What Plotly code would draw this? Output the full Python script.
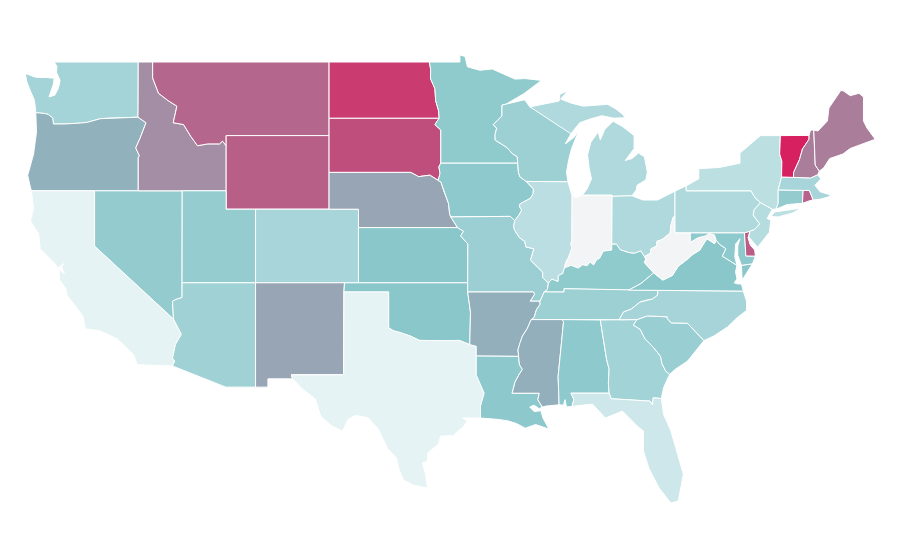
import plotly.graph_objects as go
from plotly.colors import sample_colorscale

# Shared borders as (lon, lat), each written once so neighbours line up
or_wa = [(-124.0, 46.25), (-123.4, 46.2), (-123.15, 46.15), (-122.85, 45.95), (-122.8, 45.63), (-122.1, 45.63), (-120.95, 45.68), (-120.5, 45.72), (-119.6, 45.92), (-119.05, 45.95), (-117.05, 46.0)]
id_wa = [(-117.03, 49.0), (-117.04, 46.35), (-117.05, 46.0)]
id_or = [(-117.05, 46.0), (-116.5, 45.7), (-116.9, 44.87), (-117.2, 44.33), (-116.95, 43.9), (-117.03, 43.8), (-117.03, 42.0)]
mt_id = [(-116.05, 49.0), (-116.05, 48.13), (-115.65, 47.3), (-115.0, 46.9), (-114.4, 46.6), (-114.65, 45.7), (-113.95, 45.6), (-113.45, 44.95), (-113.0, 44.45), (-112.3, 44.55), (-111.5, 44.55), (-111.3, 44.7), (-111.05, 44.45)]
ca_nv = [(-120.0, 42.0), (-120.0, 39.0), (-114.63, 35.03)]
nv_az = [(-114.63, 35.03), (-114.7, 36.0), (-114.45, 36.1), (-114.05, 36.2), (-114.05, 37.0)]
ca_az = [(-114.63, 35.03), (-114.1, 34.2), (-114.5, 33.65), (-114.7, 32.9), (-114.55, 32.75), (-114.7, 32.48)]
nd_mn = [(-96.56, 45.94), (-96.6, 46.35), (-96.8, 46.9), (-96.85, 47.55), (-97.15, 48.1), (-97.14, 48.6), (-97.23, 49.0)]
mn_sd = [(-96.45, 43.5), (-96.45, 45.3), (-96.85, 45.6), (-96.56, 45.94)]
ia_sd = [(-96.45, 42.49), (-96.63, 42.55), (-96.5, 42.95), (-96.58, 43.3), (-96.45, 43.5)]
ne_sd = [(-104.05, 43.0), (-98.5, 43.0), (-97.95, 42.77), (-97.2, 42.85), (-96.7, 42.6), (-96.45, 42.49)]
ne_ia = [(-96.45, 42.49), (-96.25, 42.0), (-96.1, 41.7), (-95.92, 41.3), (-95.85, 40.75), (-95.77, 40.58)]
ne_mo = [(-95.77, 40.58), (-95.31, 40.0)]
ks_mo = [(-95.31, 40.0), (-94.9, 39.8), (-95.1, 39.55), (-94.61, 39.11), (-94.62, 37.0)]
ia_mo = [(-95.77, 40.58), (-91.73, 40.61), (-91.42, 40.38)]
mn_wi = [(-92.01, 46.71), (-92.29, 46.66), (-92.29, 46.07), (-92.88, 45.6), (-92.65, 45.4), (-92.76, 45.06), (-92.75, 44.75), (-92.32, 44.54), (-91.92, 44.33), (-91.6, 44.03), (-91.25, 43.85), (-91.22, 43.5)]
ia_wi = [(-91.22, 43.5), (-91.17, 43.0), (-91.06, 42.75), (-90.64, 42.51)]
ia_il = [(-90.64, 42.51), (-90.42, 42.33), (-90.15, 42.1), (-90.17, 41.85), (-90.34, 41.6), (-90.66, 41.46), (-91.05, 41.3), (-91.1, 41.15), (-90.95, 40.95), (-91.12, 40.7), (-91.42, 40.38)]
mo_il = [(-91.42, 40.38), (-91.5, 40.05), (-91.42, 39.85), (-91.1, 39.45), (-90.73, 39.25), (-90.67, 38.95), (-90.12, 38.85), (-90.2, 38.62), (-90.35, 38.23), (-89.9, 37.88), (-89.52, 37.58), (-89.52, 37.28), (-89.13, 36.98)]
ky_mo = [(-89.13, 36.98), (-89.2, 36.63), (-89.42, 36.5)]
mo_tn = [(-89.42, 36.5), (-89.55, 36.25), (-89.7, 36.0)]
ar_tn = [(-89.7, 36.0), (-89.7, 35.82), (-89.95, 35.53), (-90.1, 35.12), (-90.3, 35.0)]
ms_ar = [(-90.3, 35.0), (-90.58, 34.5), (-90.9, 34.1), (-91.08, 33.7), (-91.2, 33.35), (-91.15, 33.0)]
ms_la = [(-91.15, 33.0), (-91.1, 32.55), (-90.9, 32.3), (-91.15, 31.98), (-91.4, 31.6), (-91.6, 31.0), (-89.75, 31.0), (-89.85, 30.65), (-89.55, 30.25)]
ar_mo = [(-89.7, 36.0), (-90.37, 36.0), (-90.07, 36.38), (-90.15, 36.5), (-94.62, 36.5)]
ar_ok = [(-94.62, 36.5), (-94.43, 35.4), (-94.48, 33.64)]
ar_tx = [(-94.48, 33.64), (-94.04, 33.55), (-94.04, 33.02)]
ar_la = [(-94.04, 33.02), (-91.15, 33.0)]
la_tx = [(-94.04, 33.02), (-94.04, 32.0), (-93.95, 31.9), (-93.5, 31.0), (-93.75, 30.3), (-93.75, 29.65)]
tx_ok = [(-94.48, 33.64), (-95.2, 33.87), (-96.0, 33.85), (-96.6, 33.85), (-97.2, 33.85), (-97.9, 33.87), (-98.5, 34.1), (-99.2, 34.3), (-99.7, 34.4), (-100.0, 34.56), (-100.0, 36.5), (-103.04, 36.5)]
rio_grande = [(-106.62, 32.0), (-106.53, 31.78), (-105.86, 31.23), (-104.97, 30.68), (-104.63, 29.76), (-103.83, 29.2), (-103.14, 28.95), (-102.73, 29.6), (-102.25, 29.8), (-101.37, 29.65), (-100.7, 29.05), (-100.07, 28.0), (-99.46, 27.48), (-99.3, 26.88), (-98.98, 26.28), (-98.3, 26.0), (-97.35, 25.85)]
wi_il = [(-90.64, 42.51), (-87.8, 42.49)]
il_in = [(-87.52, 41.71), (-87.53, 39.35), (-87.6, 39.1), (-87.52, 38.9), (-87.75, 38.4), (-87.95, 38.1), (-88.05, 37.8)]
il_ky = [(-88.05, 37.8), (-88.15, 37.5), (-88.45, 37.4), (-88.47, 37.07), (-88.9, 37.2), (-89.13, 36.98)]
ky_in = [(-88.05, 37.8), (-87.6, 37.95), (-87.1, 37.8), (-86.8, 37.98), (-86.5, 37.93), (-86.3, 38.13), (-86.05, 37.97), (-85.85, 38.25), (-85.65, 38.33), (-85.4, 38.72), (-84.82, 38.78), (-84.82, 39.1)]
ky_oh = [(-84.82, 39.1), (-84.5, 39.1), (-84.25, 38.8), (-83.7, 38.65), (-83.3, 38.6), (-82.85, 38.73), (-82.6, 38.42)]
oh_wv = [(-82.6, 38.42), (-82.2, 38.6), (-82.15, 38.85), (-81.75, 39.0), (-81.75, 39.25), (-81.4, 39.35), (-80.85, 39.7), (-80.8, 40.1), (-80.65, 40.55), (-80.52, 40.64)]
oh_in = [(-84.82, 39.1), (-84.8, 41.7)]
ky_wv = [(-82.6, 38.42), (-82.5, 38.3), (-82.6, 38.1), (-81.97, 37.54)]
ky_va = [(-81.97, 37.54), (-82.85, 36.95), (-83.68, 36.6)]
ky_tn = [(-89.42, 36.5), (-88.07, 36.5), (-88.07, 36.68), (-86.5, 36.65), (-83.68, 36.6)]
tn_nc = [(-81.68, 36.59), (-81.7, 36.33), (-82.05, 36.12), (-82.6, 36.03), (-82.9, 35.95), (-83.5, 35.57), (-84.02, 35.41), (-84.32, 34.99)]
nc_sc = [(-83.11, 35.0), (-82.4, 35.2), (-81.05, 35.15), (-81.04, 35.05), (-80.78, 34.82), (-79.67, 34.8), (-78.55, 33.86)]
sc_ga = [(-83.11, 35.0), (-83.35, 34.7), (-82.9, 34.48), (-82.55, 33.95), (-82.0, 33.5), (-81.5, 33.0), (-81.4, 32.6), (-81.15, 32.2), (-80.88, 32.03)]
ga_al = [(-85.6, 34.98), (-85.18, 32.87), (-85.0, 32.3), (-85.05, 31.55), (-85.0, 31.0)]
ga_fl = [(-85.0, 31.0), (-84.86, 30.7), (-82.21, 30.57), (-82.05, 30.36), (-82.0, 30.75), (-81.45, 30.71)]
al_fl = [(-85.0, 31.0), (-87.6, 31.0), (-87.4, 30.67), (-87.52, 30.28)]
al_ms = [(-88.2, 35.0), (-88.1, 34.89), (-88.47, 31.9), (-88.4, 30.37)]
md_wv = [(-79.48, 39.2), (-78.95, 39.45), (-78.45, 39.55), (-78.2, 39.68), (-77.83, 39.6), (-77.72, 39.32)]
va_wv = [(-77.72, 39.32), (-77.83, 39.13), (-78.35, 39.4), (-78.85, 38.77), (-79.3, 38.55), (-79.65, 38.3), (-80.3, 37.9), (-80.7, 37.4), (-81.35, 37.15), (-81.97, 37.54)]
md_va = [(-77.72, 39.32), (-77.5, 39.1), (-77.05, 38.85), (-77.3, 38.45), (-77.0, 38.3), (-76.3, 37.95)]
de_md = [(-75.79, 39.72), (-75.7, 38.46), (-75.05, 38.45)]
ny_pa = [(-75.35, 42.0), (-75.05, 41.6), (-74.7, 41.36)]
pa_nj = [(-74.7, 41.36), (-75.13, 40.97), (-75.2, 40.68), (-74.75, 40.2), (-75.1, 39.9), (-75.42, 39.8)]
ny_vt = [(-73.35, 45.0), (-73.4, 44.0), (-73.25, 43.6), (-73.27, 42.75)]
vt_nh = [(-71.4, 45.01), (-71.4, 44.8), (-71.85, 44.27), (-72.05, 43.7), (-72.3, 43.25), (-72.45, 43.0), (-72.46, 42.73)]
ma_nh = [(-72.46, 42.73), (-71.3, 42.7), (-70.82, 42.87)]
me_nh = [(-71.08, 45.3), (-70.98, 43.4), (-70.7, 43.07)]
ma_ri = [(-71.8, 42.02), (-71.38, 42.02), (-71.2, 41.67), (-71.12, 41.5)]
ct_ri = [(-71.8, 42.02), (-71.85, 41.32)]

# Coasts and open edges
wa_coast = [(-124.0, 46.25), (-124.05, 46.65), (-124.1, 46.95), (-124.35, 47.4), (-124.6, 47.9), (-124.72, 48.38), (-124.0, 48.17), (-123.2, 48.15), (-122.75, 48.12), (-122.8, 47.8), (-123.1, 47.1), (-122.7, 47.2), (-122.45, 47.6), (-122.35, 48.0), (-122.6, 48.45), (-122.55, 48.75), (-122.75, 49.0)]
or_coast = [(-124.0, 46.25), (-123.95, 45.2), (-124.15, 44.0), (-124.55, 42.84), (-124.4, 42.3), (-124.3, 42.0)]
ca_coast = [(-124.3, 42.0), (-124.15, 41.07), (-124.35, 40.35), (-123.8, 39.65), (-123.7, 38.85), (-122.65, 38.0), (-122.5, 37.8), (-122.1, 38.05), (-122.25, 37.85), (-122.05, 37.5), (-122.4, 37.72), (-122.4, 37.2), (-121.98, 36.7), (-121.85, 36.3), (-120.8, 35.2), (-120.62, 34.5), (-119.6, 34.38), (-118.45, 33.95), (-117.35, 33.1), (-117.1, 32.55)]
mn_north = [(-97.23, 49.0), (-95.15, 49.0), (-95.15, 49.38), (-94.8, 49.3), (-94.64, 48.74), (-93.8, 48.55), (-92.95, 48.62), (-92.0, 48.3), (-91.4, 48.07), (-90.75, 48.1), (-89.6, 48.0), (-90.8, 47.28), (-92.01, 46.71)]
wi_super = [(-92.01, 46.71), (-91.2, 46.87), (-90.75, 46.95), (-90.4, 46.57)]
wi_mi = [(-90.4, 46.57), (-89.1, 46.13), (-88.1, 45.92), (-87.8, 45.35), (-87.6, 45.1)]
wi_lake = [(-87.6, 45.1), (-87.98, 44.55), (-87.4, 44.9), (-87.08, 45.25), (-87.55, 44.3), (-87.75, 43.7), (-87.9, 43.0), (-87.8, 42.49)]
mi_upper = [(-90.4, 46.57), (-90.15, 46.6), (-88.4, 46.88), (-88.35, 47.25), (-87.8, 47.43), (-88.3, 46.99), (-87.6, 46.77), (-86.75, 46.6), (-85.1, 46.7), (-84.55, 46.45), (-84.1, 46.17), (-83.9, 45.97), (-84.7, 45.95), (-85.5, 46.08), (-86.3, 45.9), (-87.0, 45.7), (-87.6, 45.1)]
mi_lower = [(-84.73, 45.78), (-85.3, 45.33), (-85.6, 44.77), (-85.75, 45.2), (-86.25, 44.63), (-86.35, 44.25), (-86.47, 43.95), (-86.35, 43.2), (-86.2, 42.65), (-86.5, 42.1), (-86.82, 41.76), (-84.8, 41.76), (-84.8, 41.7), (-83.45, 41.73), (-83.15, 42.05), (-83.1, 42.3), (-82.5, 42.6), (-82.4, 43.0), (-82.6, 43.85), (-83.0, 44.05), (-83.45, 43.75), (-83.9, 43.65), (-83.3, 44.3), (-83.3, 45.0), (-84.1, 45.5)]
tx_coast = [(-93.75, 29.65), (-94.95, 29.65), (-94.65, 29.5), (-94.9, 29.2), (-95.6, 28.7), (-96.47, 28.67), (-96.6, 28.24), (-97.35, 27.75), (-97.35, 27.3), (-97.7, 27.2), (-97.5, 26.65), (-97.35, 25.85)]
la_coast = [(-89.55, 30.25), (-89.75, 30.15), (-90.1, 30.35), (-90.4, 30.25), (-90.1, 30.0), (-89.65, 30.05), (-89.5, 29.65), (-89.1, 29.05), (-89.6, 29.2), (-90.0, 29.3), (-90.7, 29.1), (-91.3, 29.35), (-91.9, 29.5), (-92.6, 29.58), (-93.75, 29.65)]
ms_coast = [(-88.4, 30.37), (-89.3, 30.3), (-89.55, 30.25)]
al_coast = [(-87.52, 30.28), (-87.9, 30.25), (-88.0, 30.65), (-88.1, 30.35), (-88.4, 30.37)]
fl_coast = [(-81.45, 30.71), (-81.3, 29.85), (-80.8, 28.95), (-80.6, 28.4), (-79.95, 26.6), (-80.3, 25.14), (-80.8, 25.03), (-81.6, 25.85), (-82.3, 26.93), (-82.66, 27.86), (-82.66, 28.95), (-83.0, 29.15), (-84.1, 30.03), (-85.25, 29.65), (-86.13, 30.4), (-86.5, 30.38)]
ga_coast = [(-80.88, 32.03), (-81.3, 31.3), (-81.45, 30.71)]
sc_coast = [(-78.55, 33.86), (-79.2, 33.2), (-79.66, 32.75), (-80.5, 32.3), (-80.88, 32.03)]
nc_coast = [(-78.55, 33.86), (-77.9, 34.1), (-76.95, 34.6), (-76.3, 35.1), (-75.65, 35.5), (-75.65, 36.0), (-75.87, 36.55)]
va_coast = [(-76.3, 37.95), (-76.4, 37.6), (-76.3, 37.2), (-76.5, 37.0), (-76.3, 36.95), (-76.0, 36.93), (-75.87, 36.55)]
md_bay = [(-75.05, 38.45), (-75.25, 38.03), (-76.0, 37.95), (-76.25, 38.5), (-76.25, 39.0), (-76.1, 39.4), (-76.4, 39.1), (-76.45, 38.4), (-76.3, 37.95)]
ny_north = [(-79.76, 42.27), (-78.9, 42.65), (-78.9, 43.2), (-77.5, 43.27), (-76.1, 43.5), (-76.1, 44.05), (-74.9, 44.87), (-74.7, 45.0)]
me_coast = [(-71.08, 45.3), (-70.8, 45.25), (-70.15, 45.8), (-70.05, 46.5), (-69.23, 47.46), (-69.05, 47.42), (-68.6, 47.17), (-68.0, 47.3), (-67.7, 47.1), (-67.7, 45.8), (-67.45, 45.4), (-66.9, 44.8), (-68.6, 44.3), (-69.1, 44.0), (-70.0, 43.75), (-70.4, 43.25), (-70.7, 43.07)]
ma_coast = [(-70.82, 42.87), (-70.6, 42.65), (-71.0, 42.3), (-70.65, 41.95), (-70.05, 41.8), (-70.2, 42.07), (-69.95, 41.7), (-70.6, 41.55), (-71.12, 41.5)]
long_island = [(-74.0, 40.6), (-73.75, 40.85), (-72.6, 40.98), (-71.95, 41.05), (-72.5, 40.8), (-73.5, 40.58)]
va_shore = [(-75.25, 38.03), (-76.0, 37.95), (-75.95, 37.15), (-75.6, 37.6)]


def rev(border):
    return border[::-1]


# State outlines, a state with more than one part has a list of rings
outlines = {
    'WA': [[(-122.75, 49.0)] + id_wa + rev(or_wa) + wa_coast],
    'OR': [or_coast + [(-117.03, 42.0)] + rev(id_or) + rev(or_wa)],
    'CA': [ca_coast + [(-114.7, 32.48)] + rev(ca_az) + rev(ca_nv)],
    'NV': [ca_nv + nv_az + [(-114.04, 42.0), (-117.03, 42.0)]],
    'ID': [mt_id + [(-111.05, 42.0), (-117.03, 42.0)] + rev(id_or) + rev(id_wa)],
    'MT': [[(-116.05, 49.0), (-104.05, 49.0), (-104.05, 45.0), (-111.05, 45.0)] + rev(mt_id)],
    'WY': [[(-111.05, 45.0), (-104.05, 45.0), (-104.05, 41.0), (-111.05, 41.0)]],
    'UT': [[(-114.04, 42.0), (-111.05, 42.0), (-111.05, 41.0), (-109.05, 41.0), (-109.05, 37.0), (-114.05, 37.0)]],
    'CO': [[(-109.05, 41.0), (-102.05, 41.0), (-102.05, 37.0), (-109.05, 37.0)]],
    'AZ': [[(-114.05, 37.0), (-109.05, 37.0), (-109.05, 31.33), (-111.07, 31.33)] + rev(ca_az) + nv_az],
    'NM': [[(-109.05, 37.0), (-103.0, 37.0), (-103.04, 36.5), (-103.06, 32.0), (-106.62, 32.0), (-106.53, 31.78), (-108.21, 31.78), (-108.21, 31.33), (-109.05, 31.33)]],
    'ND': [[(-104.05, 49.0)] + rev(nd_mn) + [(-104.05, 45.94)]],
    'SD': [[(-104.05, 45.94)] + rev(mn_sd) + rev(ia_sd) + rev(ne_sd)],
    'NE': [ne_sd + ne_ia + ne_mo + [(-102.05, 40.0), (-102.05, 41.0), (-104.05, 41.0)]],
    'KS': [[(-102.05, 40.0)] + ks_mo + [(-102.05, 37.0)]],
    'OK': [[(-103.0, 37.0), (-94.62, 37.0)] + ar_ok + tx_ok],
    'TX': [rev(tx_ok) + ar_tx + la_tx + tx_coast + rev(rio_grande) + [(-103.06, 32.0)]],
    'MN': [mn_north + mn_wi + mn_sd + nd_mn],
    'IA': [[(-96.45, 43.5)] + ia_wi + ia_il + rev(ia_mo) + rev(ne_ia) + ia_sd],
    'MO': [ia_mo + mo_il + ky_mo + mo_tn + ar_mo + [(-94.62, 37.0)] + rev(ks_mo) + rev(ne_mo)],
    'AR': [ar_mo + ar_ok + ar_tx + ar_la + rev(ms_ar) + rev(ar_tn)],
    'LA': [ar_la + ms_la + la_coast + rev(la_tx)],
    'WI': [wi_super + wi_mi + wi_lake + rev(wi_il) + rev(ia_wi) + rev(mn_wi)],
    'IL': [wi_il + il_in + il_ky + rev(mo_il) + rev(ia_il)],
    'MI': [mi_upper, mi_lower],
    'IN': [[(-87.52, 41.71), (-87.2, 41.63), (-86.82, 41.76), (-84.8, 41.76)] + rev(oh_in) + rev(ky_in) + rev(il_in)],
    'OH': [oh_in + [(-83.45, 41.73), (-82.7, 41.5), (-81.7, 41.5), (-80.52, 41.98)] + rev(oh_wv) + rev(ky_oh)],
    'KY': [ky_in + ky_oh + ky_wv + ky_va + rev(ky_tn) + rev(ky_mo) + rev(il_ky)],
    'TN': [ky_tn + tn_nc + [(-85.6, 34.98), (-88.2, 35.0)] + rev(ar_tn) + rev(mo_tn)],
    'MS': [al_ms + ms_coast + rev(ms_la) + rev(ms_ar)],
    'AL': [[(-88.2, 35.0)] + ga_al + al_fl + al_coast + rev(al_ms)],
    'GA': [[(-85.6, 34.98), (-84.32, 34.99)] + sc_ga + ga_coast + rev(ga_fl) + rev(ga_al)],
    'FL': [rev(al_fl) + ga_fl + fl_coast],
    'SC': [nc_sc + sc_coast + rev(sc_ga)],
    'NC': [tn_nc + nc_sc + nc_coast],
    'VA': [rev(va_wv) + md_va + va_coast + [(-81.68, 36.59)] + rev(ky_va), va_shore],
    'WV': [oh_wv + [(-80.52, 39.72), (-79.48, 39.72)] + md_wv + va_wv + rev(ky_wv)],
    'MD': [[(-79.48, 39.72)] + de_md + md_bay + rev(md_va) + rev(md_wv)],
    'DE': [[(-75.79, 39.72), (-75.42, 39.8), (-75.55, 39.45), (-75.4, 39.05), (-75.1, 38.78), (-75.05, 38.45), (-75.7, 38.46)]],
    'PA': [[(-80.52, 41.98), (-79.76, 42.27), (-79.76, 42.0)] + ny_pa + pa_nj + [(-75.79, 39.72), (-80.52, 39.72)]],
    'NJ': [rev(pa_nj) + [(-73.9, 41.0), (-74.25, 40.5), (-74.0, 40.4), (-74.1, 39.75), (-74.9, 38.93), (-75.5, 39.5)]],
    'NY': [ny_north + ny_vt + [(-73.5, 42.05), (-73.5, 41.3), (-73.65, 41.0), (-73.9, 41.0)] + rev(ny_pa) + [(-79.76, 42.0)], long_island],
    'CT': [[(-73.5, 42.05)] + ct_ri + [(-72.9, 41.25), (-73.65, 41.0), (-73.5, 41.3)]],
    'RI': [ma_ri + [(-71.4, 41.45), (-71.85, 41.32)]],
    'MA': [[(-73.27, 42.75)] + ma_nh + ma_coast + rev(ma_ri) + [(-73.5, 42.05)]],
    'VT': [[(-73.35, 45.0)] + vt_nh + rev(ny_vt)],
    'NH': [[(-71.4, 45.01), (-71.3, 45.3)] + me_nh + [(-70.82, 42.87)] + rev(ma_nh) + rev(vt_nh)],
    'ME': [me_coast + rev(me_nh)],
}

state_codes = ['WA', 'OR', 'CA', 'NV', 'ID', 'MT', 'WY', 'UT', 'CO', 'AZ', 'NM', 'ND', 'SD', 'NE', 'KS', 'OK',
               'TX', 'MN', 'IA', 'MO', 'AR', 'LA', 'WI', 'IL', 'MI', 'IN', 'OH', 'KY', 'TN', 'MS', 'AL', 'GA',
               'FL', 'SC', 'NC', 'VA', 'WV', 'MD', 'DE', 'PA', 'NJ', 'NY', 'CT', 'RI', 'MA', 'VT', 'NH', 'ME']
state_values = [35, 56, 0, 44, 67, 79, 81, 43, 33, 37, 60, 92, 86, 60, 49, 49,
                0, 46, 47, 40, 57, 48, 39, 23, 29, None, 29, 46, 39, 57, 47, 36,
                13, 41, 34, 49, None, 47, 82, 29, 26, 22, 44, 80, 33, 100, 72, 72]

value_scale = [[0, '#e5f3f5'], [0.5, '#88c6ca'], [1, '#d6205f']]
no_data_color = '#f3f4f6'

fig = go.Figure()

for code, value in zip(state_codes, state_values):
    lons, lats = [], []
    for ring in outlines[code]:
        lons += [p[0] for p in ring] + [ring[0][0], None]
        lats += [p[1] for p in ring] + [ring[0][1], None]
    color = no_data_color if value is None else sample_colorscale(value_scale, value / 100)[0]
    fig.add_trace(go.Scatter(
        x=lons,
        y=lats,
        mode='lines',
        fill='toself',
        fillcolor=color,
        line=dict(color='white', width=1),
        name=code,
        hoverinfo='name'
    ))

# The page keeps its 8px body margin, so the ranges are moved to sit the map where it belongs
fig.update_layout(
    width=900,
    height=560,
    margin=dict(l=0, r=0, t=0, b=0),
    paper_bgcolor='white',
    plot_bgcolor='white',
    showlegend=False,
    xaxis=dict(range=[-125.89, -64.67], visible=False),
    yaxis=dict(range=[21.5, 51.935], visible=False)
)

fig.write_html('out.html')
